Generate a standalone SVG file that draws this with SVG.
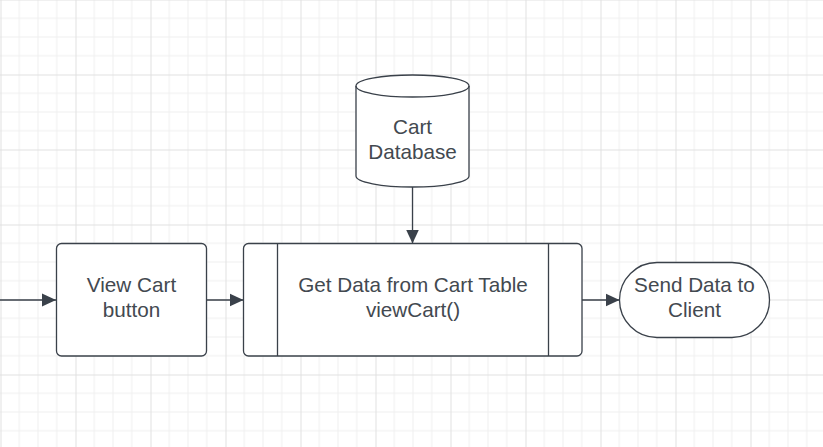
<svg xmlns="http://www.w3.org/2000/svg" width="823" height="447" viewBox="0 0 823 447">
  <defs>
    <pattern id="grid" patternUnits="userSpaceOnUse" x="0.5" y="-0.5" width="75" height="75">
      <path d="M18.75 0V75M37.5 0V75M56.25 0V75M0 18.75H75M0 37.5H75M0 56.25H75" stroke="#efefef" stroke-width="1" fill="none"/>
      <path d="M0.5 0V75M0 0.5H75" stroke="#e0e0e0" stroke-width="1" fill="none"/>
    </pattern>
    <marker id="arrow" markerUnits="userSpaceOnUse" markerWidth="14" markerHeight="14" refX="14" refY="7" orient="auto">
      <path d="M0 0.5L14 7L0 13.5Z" fill="#3a414a"/>
    </marker>
    <style>
      .shape { fill: #ffffff; stroke: #3a414a; stroke-width: 1.3; }
      .line { fill: none; stroke: #3a414a; stroke-width: 1.3; }
      .conn { fill: none; stroke: #3a414a; stroke-width: 1.3; marker-end: url(#arrow); }
      .label { font-family: "Liberation Sans", Arial, sans-serif; font-size: 20.7px; fill: #434950; text-anchor: middle; }
    </style>
  </defs>
  <rect width="823" height="447" fill="#ffffff"/>
  <rect width="823" height="447" fill="url(#grid)"/>

  <g id="connectors">
    <path class="conn" d="M0 300H56"/>
    <path class="conn" d="M206.5 300H243.5"/>
    <path class="conn" d="M412.5 187V243.5"/>
    <path class="conn" d="M582 300H619.5"/>
  </g>

  <g id="view-cart-button">
    <rect class="shape" x="56.5" y="243.5" width="150" height="112.5" rx="5"/>
    <text class="label" x="131.5" y="292">View Cart</text>
    <text class="label" x="131.5" y="317">button</text>
  </g>

  <g id="get-data">
    <rect class="shape" x="243.5" y="243.5" width="338.5" height="112.5" rx="5"/>
    <path class="line" d="M277.5 243.5V356M548.5 243.5V356"/>
    <text class="label" x="413" y="292">Get Data from Cart Table</text>
    <text class="label" x="413" y="317">viewCart()</text>
  </g>

  <g id="cart-database">
    <path class="shape" d="M356 86A56.5 11 0 0 1 469 86V176A56.5 11 0 0 1 356 176Z"/>
    <path class="line" d="M356 86A56.5 11 0 0 0 469 86"/>
    <text class="label" x="412.5" y="134">Cart</text>
    <text class="label" x="412.5" y="159">Database</text>
  </g>

  <g id="send-data">
    <rect class="shape" x="619.5" y="262.5" width="150" height="75" rx="37.5"/>
    <text class="label" x="694.5" y="292">Send Data to</text>
    <text class="label" x="694.5" y="317">Client</text>
  </g>
</svg>
